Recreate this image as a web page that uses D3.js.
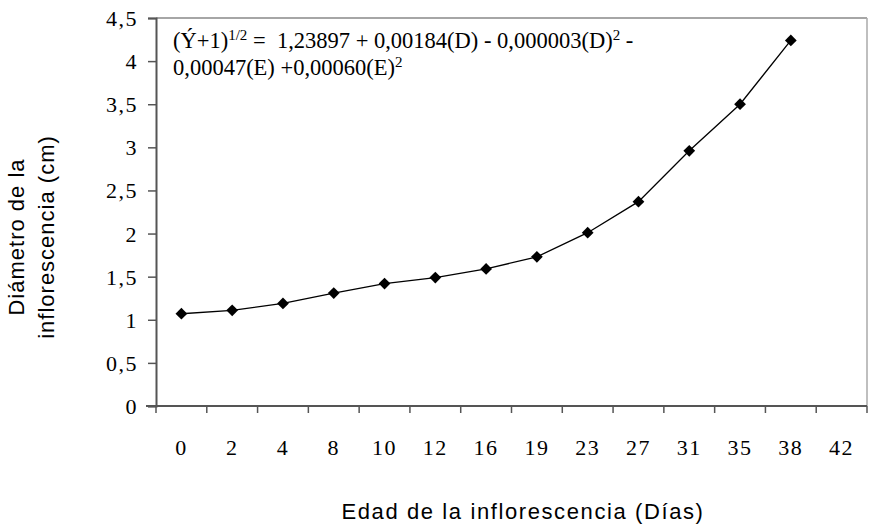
<!DOCTYPE html>
<html>
<head>
<meta charset="utf-8">
<script src="https://cdn.jsdelivr.net/npm/d3@7"></script>
<style>
  html, body { margin: 0; padding: 0; background: #fff; }
  svg { display: block; }
</style>
</head>
<body>
<svg id="chart" width="869" height="529"></svg>
<script>
const categories = ["0","2","4","8","10","12","16","19","23","27","31","35","38","42"];
const values = [1.07, 1.11, 1.19, 1.31, 1.42, 1.49, 1.59, 1.73, 2.01, 2.37, 2.96, 3.50, 4.24];
const yTicks = [0, 0.5, 1, 1.5, 2, 2.5, 3, 3.5, 4, 4.5];

const svg = d3.select("#chart");
const pLeft = 156, pRight = 867, pTop = 18, pBottom = 406;
const serif = "'Liberation Serif', 'Times New Roman', serif";
const sans = "'Liberation Sans', Arial, sans-serif";

const x = d3.scaleBand().domain(categories).range([pLeft, pRight]).padding(0);
const y = d3.scaleLinear().domain([0, 4.5]).range([pBottom, pTop]);

// frame (top and right, gray)
svg.append("line").attr("x1", pLeft).attr("x2", pRight).attr("y1", pTop).attr("y2", pTop)
  .attr("stroke", "#888").attr("stroke-width", 1.5);
svg.append("line").attr("x1", pRight).attr("x2", pRight).attr("y1", pTop).attr("y2", pBottom)
  .attr("stroke", "#aaa").attr("stroke-width", 1.5);

const fmt = d => String(d).replace(".", ",");

// y axis
const yAxis = svg.append("g").attr("transform", `translate(${pLeft},0)`)
  .call(d3.axisLeft(y).tickValues(yTicks).tickSize(8).tickPadding(10).tickFormat(fmt))
  .attr("font-family", serif).attr("font-size", 22);
yAxis.select(".domain").attr("stroke", "#555").attr("stroke-width", 2);
yAxis.selectAll(".tick line").attr("stroke", "#555").attr("stroke-width", 1.5);
yAxis.selectAll(".tick text")
  .attr("font-family", serif)
  .attr("font-size", 22).attr("fill", "#000").attr("letter-spacing", 1.5)
  .attr("dy", "0.34em");

// x axis with ticks at band edges
const xAxisG = svg.append("g").attr("transform", `translate(0,${pBottom})`);
xAxisG.append("line").attr("x1", pLeft - 10).attr("x2", pRight).attr("y1", 0).attr("y2", 0)
  .attr("stroke", "#555").attr("stroke-width", 2);
const edges = categories.map(c => x(c)).concat([x(categories[categories.length-1]) + x.bandwidth()]);
xAxisG.selectAll("line.tk").data(edges).join("line").attr("class", "tk")
  .attr("x1", d => d).attr("x2", d => d).attr("y1", 0).attr("y2", 7)
  .attr("stroke", "#555").attr("stroke-width", 1.5);
xAxisG.selectAll("text").data(categories).join("text")
  .attr("x", d => x(d) + x.bandwidth() / 2).attr("y", 49)
  .attr("text-anchor", "middle")
  .attr("font-family", serif)
  .attr("font-size", 22).attr("letter-spacing", 1.5).attr("fill", "#000")
  .text(d => d);

// line
const pts = values.map((v, i) => [x(categories[i]) + x.bandwidth() / 2, y(v)]);
svg.append("path").attr("d", d3.line()(pts)).attr("fill", "none")
  .attr("stroke", "#000").attr("stroke-width", 1.3);
svg.selectAll("path.mk").data(pts).join("path").attr("class", "mk")
  .attr("transform", d => `translate(${d[0]},${d[1]})`)
  .attr("d", d3.symbol().type(d3.symbolDiamond2).size(88))
  .attr("fill", "#000");

// equation
const eq = svg.append("text")
  .attr("font-family", serif)
  .attr("font-size", 22.5).attr("fill", "#000");
const l1 = eq.append("tspan").attr("x", 173).attr("y", 48);
l1.append("tspan").text("(Ý+1)");
l1.append("tspan").attr("font-size", 15).attr("dy", -8).text("1/2");
l1.append("tspan").attr("dy", 8).attr("xml:space", "preserve").text(" =  1,23897 + 0,00184(D) - 0,000003(D)");
l1.append("tspan").attr("font-size", 15).attr("dy", -8).text("2");
l1.append("tspan").attr("dy", 8).text(" -");
const l2 = eq.append("tspan").attr("x", 173).attr("y", 75);
l2.append("tspan").text("0,00047(E) +0,00060(E)");
l2.append("tspan").attr("font-size", 15).attr("dy", -8).text("2");

// axis titles
svg.append("text").attr("x", 523).attr("y", 519).attr("text-anchor", "middle")
  .attr("font-family", sans)
  .attr("font-size", 22).attr("letter-spacing", 1.6).attr("fill", "#000")
  .text("Edad de la inflorescencia (Días)");

const yt = svg.append("text").attr("transform", "translate(0,237) rotate(-90)")
  .attr("text-anchor", "middle")
  .attr("font-family", sans)
  .attr("font-size", 22).attr("letter-spacing", 1).attr("fill", "#000");
yt.append("tspan").attr("x", 0).attr("y", 24).text("Diámetro de la");
yt.append("tspan").attr("x", 0).attr("y", 54).text("inflorescencia (cm)");
</script>
</body>
</html>
